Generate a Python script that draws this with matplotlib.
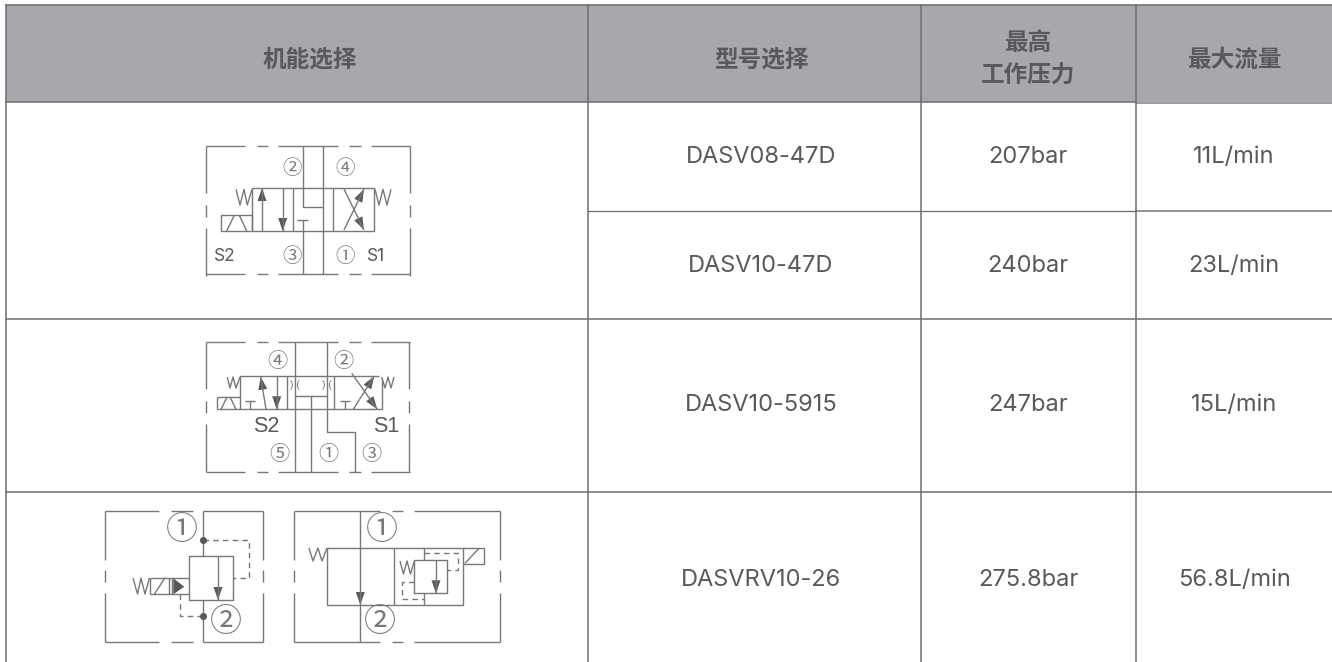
import numpy as np
import matplotlib
matplotlib.use("Agg")
import matplotlib.pyplot as plt

plt.rcParams['font.family'] = ['Noto Sans CJK SC', 'DejaVu Sans']

# table content
headers = ["机能选择", "型号选择", "最高\n工作压力", "最大流量"]
models = ["DASV08-47D", "DASV10-47D", "DASV10-5915", "DASVRV10-26"]
pressures = ["207bar", "240bar", "247bar", "275.8bar"]
flows = ["11L/min", "23L/min", "15L/min", "56.8L/min"]

# grid in pixels
col_edges = [6, 588, 921, 1136, 1332]
col_text = [310, 761, 1028, 1234]
row_mid = [157, 266, 405, 580]
header_fill = "#a7a8ab"
line_col = "#6d6e71"
text_col = "#58595b"
sym_col = "#77787b"
dark = "#58595b"

# symbol 1: two models, S2 / S1
box1 = (205.5, 410, 146, 274)
lines1 = [
    [(302.7, 146), (302.7, 206.7), (322.7, 206.7)],
    [(322.7, 146), (322.7, 274)],
    [(297.3, 220), (308.3, 220)],
    [(302.7, 220), (302.7, 274)],
    [(252, 188), (374, 188), (374, 231), (252, 231), (252, 188)],
    [(292.7, 188), (292.7, 231)],
    [(333.3, 188), (333.3, 231)],
    [(262, 188), (262, 231)],
    [(282.7, 188), (282.7, 231)],
    [(344, 189), (364, 230)],
    [(344, 230), (364, 189)],
    [(221.3, 215.3), (252, 215.3), (252, 231), (221.3, 231), (221.3, 215.3)],
    [(226.7, 231), (234.3, 215.3)],
    [(239.3, 215.3), (246.7, 231)],
    [(236, 189.3), (240, 205), (244, 189.3), (247.3, 205), (252, 189.3)],
    [(375, 189.3), (379, 205), (383, 189.3), (387, 205), (391, 189.3)],
]
heads1 = [((262, 188), (262, 231)), ((282.7, 231), (282.7, 188)),
          ((364, 189), (344, 230)), ((364, 230), (344, 189))]
labels1 = [("②", 291.7, 168), ("④", 345, 168), ("③", 291.7, 256.7), ("①", 345, 256.7)]
names1 = [("S2", 225, 256.7), ("S1", 376, 256.7)]

# symbol 2: DASV10-5915
box2 = (205.7, 409.3, 342.3, 472.3)
lines2 = [
    [(295, 342.3), (295, 472.3)],
    [(327, 342.3), (327, 431.7), (355, 431.7), (355, 472.3)],
    [(310.7, 396), (310.7, 472.3)],
    [(295, 396), (327, 396)],
    [(240.3, 409.3), (240.3, 376), (379, 376)],
    [(216.7, 409.3), (381.7, 409.3), (381.7, 380)],
    [(287.3, 376), (287.3, 409.3)],
    [(334, 376), (334, 409.3)],
    [(216.7, 396.7), (240.3, 396.7)],
    [(216.7, 396.7), (216.7, 409.3)],
    [(221, 409.3), (227, 397)],
    [(230, 397), (236, 409.3)],
    [(245, 400.7), (255, 400.7)],
    [(250, 400.7), (250, 409.3)],
    [(340, 400.7), (350, 400.7)],
    [(345, 400.7), (345, 409.3)],
    [(266, 409.3), (260.7, 376.7)],
    [(276.7, 376), (276.7, 409.3)],
    [(351.7, 373.3), (377.3, 409.3)],
    [(353.3, 409.3), (374.3, 376)],
    [(227.3, 377), (230, 388), (233, 377), (236, 388), (240, 377)],
    [(381.7, 377), (385, 388), (388, 377), (391, 388), (394, 377)],
]
heads2 = [((260.7, 376.7), (266, 409.3)), ((276.7, 409.3), (276.7, 376)),
          ((377.3, 409.3), (351.7, 373.3)), ((374.3, 376), (353.3, 409.3))]
labels2 = [("④", 277.7, 361.7), ("②", 343.3, 361.7), ("⑤", 279, 455), ("①", 328, 455), ("③", 371.7, 455)]
names2 = [("S2", 266.7, 426), ("S1", 385.7, 426)]
orifices2 = [(295, 385), (327, 385)]

# symbol 3: DASVRV10-26 left
box3 = (105, 263.3, 511, 641.7)
lines3 = [
    [(203.3, 511), (203.3, 556)],
    [(203.3, 600), (203.3, 641.7)],
    [(189.3, 556), (232.7, 556), (232.7, 600), (189.3, 600), (189.3, 556)],
    [(218, 556), (218, 600)],
    [(150, 577.7), (189.3, 577.7)],
    [(150, 594.3), (189.3, 594.3)],
    [(150, 577.7), (150, 594.3)],
    [(169.3, 577.7), (169.3, 594.3)],
    [(172.3, 577.7), (172.3, 594.3)],
    [(154.3, 594.3), (165, 577.7)],
    [(133, 578), (137.5, 594), (141, 578), (145, 594), (149.5, 578)],
]
dashed3 = [
    [(203.3, 539.7), (249, 539.7), (249, 578.3), (232.7, 578.3)],
    [(180, 594.3), (180, 616.3), (203.3, 616.3)],
]
heads3 = [((218, 600), (218, 556))]
tri3 = [(173.3, 578.3), (184.3, 586.7), (173.3, 594.3)]
dots3 = [(203.3, 539.7), (203.3, 616.3)]
labels3 = [("①", 181.7, 530), ("②", 225.7, 621.7)]

# symbol 4: DASVRV10-26 right
box4 = (294.3, 500, 511, 641.7)
lines4 = [
    [(360.3, 511), (360.3, 641.7)],
    [(327, 547.7), (462.7, 547.7), (462.7, 605), (327, 605), (327, 547.7)],
    [(394.3, 547.7), (394.3, 605)],
    [(424.3, 547.7), (424.3, 560.3)],
    [(424.3, 593.3), (424.3, 605)],
    [(414.3, 560.3), (447.3, 560.3), (447.3, 593.3), (414.3, 593.3), (414.3, 560.3)],
    [(436, 560.3), (436, 593.3)],
    [(462.7, 547.7), (484, 547.7), (484, 564.3), (462.7, 564.3)],
    [(465, 563.3), (479, 548.3)],
    [(309, 548), (313, 561), (318, 548), (322, 561), (327, 548)],
    [(400, 561), (403.5, 574), (407, 561), (410.5, 574), (414.3, 561)],
]
dashed4 = [
    [(424.3, 553.3), (457.7, 553.3), (457.7, 570), (447.3, 570)],
    [(414.3, 582.3), (401.7, 582.3), (401.7, 599), (424.3, 599)],
]
heads4 = [((360.3, 605), (360.3, 547.7)), ((436, 593.3), (436, 560.3))]
labels4 = [("①", 381.7, 530), ("②", 380, 621.7)]

# dash breaks of the enclosure, as offsets from the corner
top_runs12 = [(0, 39.5), (51, 62), (72, 132), (143, 155), (165, 204.5)]
side_runs12 = [(0, 47), (59, 71), (82, 130)]
top_runs3 = [(0, 54), (66, 88), (98, 158.3)]
top_runs4 = [(0, 86), (97.4, 109), (120, 205.7)]
side_runs34 = [(0, 49), (59, 70.7), (82, 130.7)]

fig = plt.figure(figsize=(13.32, 6.62), dpi=100)
ax = fig.add_axes([0, 0, 1, 1])
ax.set_xlim(0, 1332)
ax.set_ylim(662, 0)
ax.axis("off")


def poly(pts, col=sym_col, lw=1.0, ls="-"):
    xs, ys = zip(*pts)
    ax.plot(xs, ys, color=col, lw=lw, ls=ls, solid_capstyle="butt")


def enclosure(box, top_runs, side_runs):
    x0, x1, y0, y1 = box
    for a, b in top_runs:
        poly([(x0 + a, y0), (x0 + b, y0)])
        poly([(x0 + a, y1), (x0 + b, y1)])
    for a, b in side_runs:
        poly([(x0, y0 + a), (x0, y0 + b)])
        poly([(x1, y0 + a), (x1, y0 + b)])


def head(tip, tail, length=13, width=9):
    tip = np.array(tip, float)
    d = np.array(tail, float) - tip
    d = d / np.hypot(*d)
    n = np.array([-d[1], d[0]])
    base = tip + d * length
    tri = [tip, base + n * width / 2, base - n * width / 2]
    ax.fill(*zip(*tri), color=dark, lw=0)


def symbol(box, top_runs, side_runs, lines, heads, labels, size):
    enclosure(box, top_runs, side_runs)
    for pts in lines:
        poly(pts)
    for tip, tail in heads:
        head(tip, tail)
    for s, x, y in labels:
        ax.text(x, y, s, ha="center", va="center", fontsize=size, color=sym_col)


# header band
ax.fill_between([col_edges[0], col_edges[-1]], 5, 102, color=header_fill, lw=0)

# grid
ax.plot([6, 1332], [5, 5], color=line_col, lw=1.1)
ax.plot([6, 1136], [102, 102], color=line_col, lw=1.1)
ax.plot([1136, 1332], [103, 103], color="#7f8083", lw=1.1)
ax.plot([588, 1136], [211, 211], color=line_col, lw=0.9)
ax.plot([1136, 1332], [211, 211], color="#8a8b8d", lw=1.3)
ax.plot([6, 1332], [319, 319], color=line_col, lw=1.1)
ax.plot([6, 1332], [491.7, 491.7], color=line_col, lw=1.1)
for x in col_edges[:4]:
    ax.plot([x, x], [5, 662], color=line_col, lw=1.1)

# header text
for i, h in enumerate(headers):
    ax.text(col_text[i], 59.5, h, ha="center", va="center", fontsize=17, weight="bold",
            color=text_col, linespacing=1.48)

# body text
for i, y in enumerate(row_mid):
    ax.text(col_text[1], y, models[i], ha="center", va="center", fontsize=17,
            color=text_col, family="Inter")
    ax.text(col_text[2], y, pressures[i], ha="center", va="center", fontsize=17,
            color=text_col, family="Inter")
    ax.text(col_text[3], y, flows[i], ha="center", va="center", fontsize=17,
            color=text_col, family="Inter")

# symbols
symbol(box1, top_runs12, side_runs12, lines1, heads1, labels1, 14)
for s, x, y in names1:
    ax.text(x, y, s, ha="center", va="center", fontsize=12.5, color=text_col, family="Inter")

symbol(box2, top_runs12, side_runs12, lines2, heads2, labels2, 14.5)
for s, x, y in names2:
    ax.text(x, y, s, ha="center", va="center", fontsize=15.5, color=text_col, family="Liberation Sans")
for x, y in orifices2:
    ax.text(x, y, ") (", ha="center", va="center", fontsize=7.5, color=sym_col, family="Liberation Sans")

symbol(box3, top_runs3, side_runs34, lines3, heads3, labels3, 23)
for pts in dashed3:
    poly(pts, ls=(0, (4, 3)))
ax.fill(*zip(*tri3), color=dark, lw=0)
ax.scatter(*zip(*dots3), s=26, color=dark, lw=0, zorder=3)

symbol(box4, top_runs4, side_runs34, lines4, heads4, labels4, 23)
for pts in dashed4:
    poly(pts, ls=(0, (4, 3)))

fig.savefig("out.png", dpi=100)
